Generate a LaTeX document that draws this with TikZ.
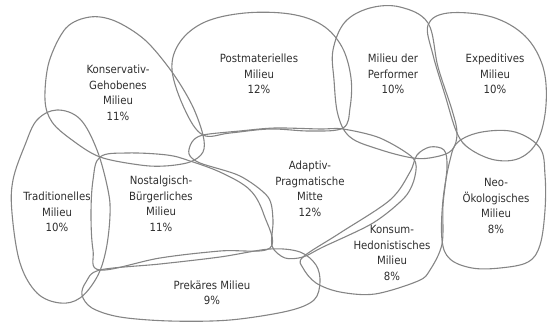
\documentclass[tikz,border=0pt]{standalone}
\usepackage{fontspec}
\setmainfont{DejaVu Sans Condensed}
\begin{document}
\begin{tikzpicture}[x=1pt,y=-1pt,
  blob/.style={draw=black!48,line width=1.1pt},
  lbl/.style={align=center,text=black!82,font=\fontsize{11.3}{15.5}\selectfont,inner sep=0pt}]
\useasboundingbox (0,0) rectangle (551,323);
% Konservativ-Gehobenes
\draw[blob] plot[smooth cycle,tension=0.55] coordinates {(45,100) (49,62) (66,28) (90,17) (115,21) (145,40) (172,72) (192,105) (203,135) (203,152) (190,162) (165,166) (140,165) (100,157) (72,140) (52,122)};
% Postmaterielles
\draw[blob] plot[smooth cycle,tension=0.6] coordinates {(172,70) (180,42) (205,22) (245,13) (290,14) (322,25) (342,47) (351,78) (350,108) (343,128) (310,131) (270,129) (230,133) (203,135) (185,110)};
% Milieu der Performer
\draw[blob] plot[smooth cycle,tension=0.6] coordinates {(333,50) (345,22) (370,8) (400,7) (428,23) (438,67) (452,110) (457,133) (452,150) (435,157) (413,158) (378,149) (350,137) (338,115) (334,80)};
% Expeditives
\draw[blob] plot[smooth cycle,tension=0.6] coordinates {(428,25) (448,13) (492,17) (525,36) (543,67) (546,105) (538,140) (520,158) (495,160) (470,149) (457,133) (445,95) (433,55)};
% Traditionelles
\draw[blob] plot[smooth cycle,tension=0.6] coordinates {(57,110) (80,119) (97,150) (108,190) (110,215) (106,250) (97,277) (80,298) (60,303) (37,293) (20,263) (12,213) (13,180) (25,145) (37,120)};
% Nostalgisch-Buergerliches
\draw[blob] plot[smooth cycle,tension=0.6] coordinates {(100,157) (127,153) (167,155) (190,161) (222,173) (250,190) (264,215) (270,248) (220,251) (160,258) (100,270) (93,250) (91,215) (93,180)};
% Adaptiv-Pragmatische Mitte
\draw[blob] plot[smooth cycle,tension=0.5] coordinates {(203,135) (240,131) (275,128) (320,129) (343,129) (380,138) (413,158) (415,176) (405,197) (373,223) (323,247) (303,257) (285,258) (272,246) (273,220) (268,197) (240,176) (200,163) (189,154) (192,142)};
% Konsum-Hedonistisches
\draw[blob] plot[smooth cycle,tension=0.55] coordinates {(303,257) (340,233) (390,200) (410,172) (417,155) (430,147) (444,150) (447,167) (443,205) (442,244) (430,270) (418,281) (375,294) (340,292) (316,283) (303,268)};
% Neo-Oekologisches
\draw[blob] plot[smooth cycle,tension=0.6] coordinates {(450,160) (458,142) (482,132) (515,132) (540,148) (545,175) (545,210) (540,245) (528,262) (500,268) (472,268) (450,259) (442,240) (443,200)};
% Prekaeres
\draw[blob] plot[smooth cycle,tension=0.55] coordinates {(100,270) (160,264) (220,257) (270,249) (300,252) (316,265) (320,282) (314,300) (288,311) (230,320) (170,321) (120,317) (92,308) (82,295) (86,282)};
% labels
\node[lbl] (kg) at (118,93) {Konservativ-\\Gehobenes\\Milieu\\11\%};
\node[lbl] (pm) at (259,74) {Postmaterielles\\Milieu\\12\%};
\node[lbl] (mdp) at (393,74) {Milieu der\\Performer\\10\%};
\node[lbl] (exp) at (495,74) {Expeditives\\Milieu\\10\%};
\node[lbl] (trad) at (57,212) {Traditionelles\\Milieu\\10\%};
\node[lbl] (nb) at (161,204) {Nostalgisch-\\Bürgerliches\\Milieu\\11\%};
\node[lbl] (apm) at (310,189) {Adaptiv-\\Pragmatische\\Mitte\\12\%};
\node[lbl] (kh) at (392,253) {Konsum-\\Hedonistisches\\Milieu\\8\%};
\node[lbl] (neo) at (496,206) {Neo-\\Ökologisches\\Milieu\\8\%};
\node[lbl] (prek) at (212,293) {Prekäres Milieu\\9\%};
\end{tikzpicture}
\end{document}
